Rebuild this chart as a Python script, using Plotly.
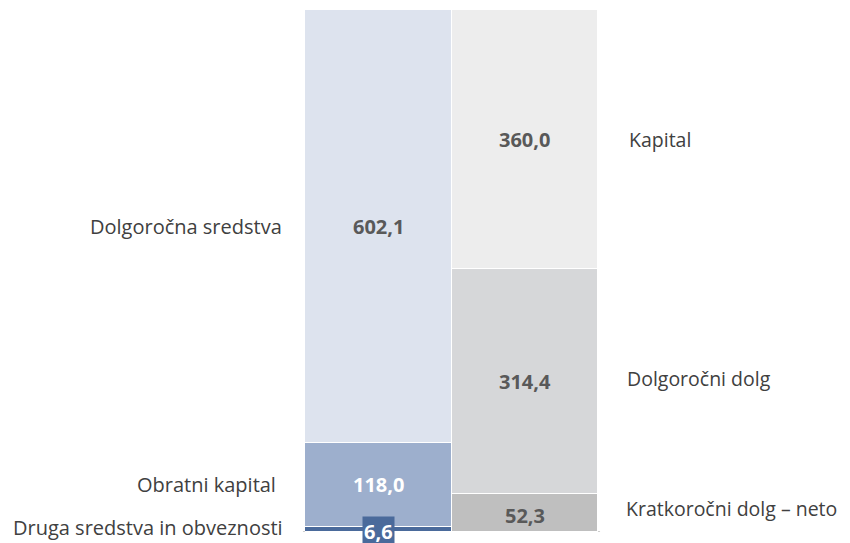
import plotly.graph_objects as go

# Data
columns = ["Sredstva", "Viri"]
left_labels = ["Druga sredstva in obveznosti", "Obratni kapital", "Dolgoročna sredstva"]
left_values = [6.6, 118.0, 602.1]
right_labels = ["Kratkoročni dolg – neto", "Dolgoročni dolg", "Kapital"]
right_values = [52.3, 314.4, 360.0]

left_colors = ["#4A6A9B", "#9DAFCD", "#DDE3EE"]
right_colors = ["#BFBFBF", "#D6D7D9", "#EDEDED"]
left_text_colors = ["#FFFFFF", "#FFFFFF", "#595959"]
right_text_colors = ["#595959", "#595959", "#595959"]

FONT = "Open Sans"
FS = 20

def fmt(v):
    return f"{v:.1f}".replace(".", ",")

fig = go.Figure()
for i in range(3):
    fig.add_trace(go.Bar(
        x=[columns[0]], y=[left_values[i]],
        marker=dict(color=left_colors[i], line=dict(color="white", width=1)),
        showlegend=False, hoverinfo="skip"))
for i in range(3):
    fig.add_trace(go.Bar(
        x=[columns[1]], y=[right_values[i]],
        marker=dict(color=right_colors[i], line=dict(color="white", width=1)),
        showlegend=False, hoverinfo="skip"))

annotations = []
left_label_x = [-0.068, -0.092, -0.072]
left_label_shift = [5, 0, 0]
cum = 0
for i, v in enumerate(left_values):
    mid = cum + v / 2
    cum += v
    if i == 0:
        annotations.append(dict(
            x=columns[0], y=0, xref="x", yref="y", yanchor="middle", yshift=1,
            text=f"<b>{fmt(v)}</b>", showarrow=False,
            font=dict(family=FONT, size=FS, color="#FFFFFF"),
            bgcolor=left_colors[0], borderpad=1))
        label_y = 0
    else:
        annotations.append(dict(
            x=columns[0], y=mid, xref="x", yref="y",
            text=f"<b>{fmt(v)}</b>", showarrow=False,
            font=dict(family=FONT, size=FS, color=left_text_colors[i])))
        label_y = mid
    annotations.append(dict(
        x=left_label_x[i], y=label_y, xref="paper", yref="y", xanchor="right",
        yshift=left_label_shift[i],
        text=left_labels[i], showarrow=False,
        font=dict(family=FONT, size=FS, color="#404040")))

right_value_shift = [-2, 0, 0]
right_label_shift = [5, 3, 0]
right_label_x = [1.088, 1.091, 1.1]
cum = 0
for i, v in enumerate(right_values):
    mid = cum + v / 2
    cum += v
    annotations.append(dict(
        x=columns[1], y=mid, xref="x", yref="y", yshift=right_value_shift[i],
        text=f"<b>{fmt(v)}</b>", showarrow=False,
        font=dict(family=FONT, size=FS, color=right_text_colors[i])))
    annotations.append(dict(
        x=right_label_x[i], y=mid, xref="paper", yref="y", xanchor="left",
        yshift=right_label_shift[i],
        text=right_labels[i], showarrow=False,
        font=dict(family=FONT, size=19.5, color="#404040")))

total = sum(left_values)

fig.update_layout(
    barmode="stack",
    bargap=0,
    width=842, height=535,
    margin=dict(l=297, r=252, t=2, b=11),
    paper_bgcolor="white", plot_bgcolor="white",
    xaxis=dict(showticklabels=False, showgrid=False, zeroline=False, showline=False),
    yaxis=dict(range=[0, total], showticklabels=False, showgrid=False, zeroline=False, showline=False),
    annotations=annotations,
    shapes=[dict(type="line", xref="paper", yref="y", x0=-0.007, x1=1.007, y0=0, y1=0,
                 line=dict(color="#BFBFBF", width=1.5), layer="below")],
)

fig.write_html("out.html")
